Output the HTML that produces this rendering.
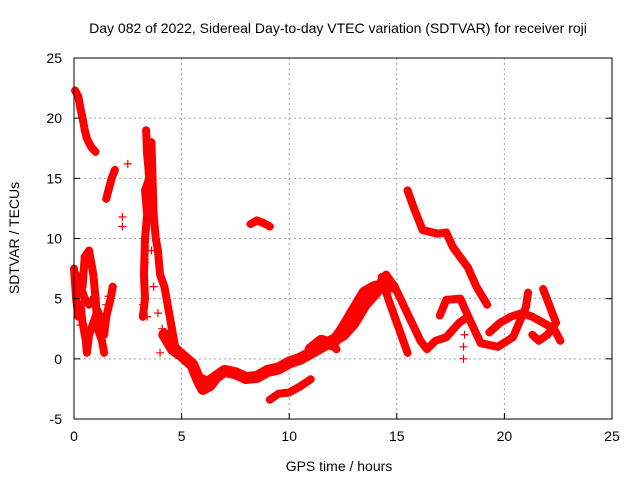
<!DOCTYPE html>
<html><head><meta charset="utf-8"><style>
body{margin:0;background:#fff;}
svg text{font-family:"Liberation Sans",sans-serif;font-size:14px;fill:#000;}
</style></head><body>
<svg id="chart" width="640" height="480" viewBox="0 0 640 480" xmlns="http://www.w3.org/2000/svg">
<text x="338" y="33" text-anchor="middle">Day 082 of 2022, Sidereal Day-to-day VTEC variation (SDTVAR) for receiver roji</text>
<g id="grid"></g>
<g id="marks"></g>
<rect x="74" y="58" width="538" height="361" fill="none" stroke="#000" stroke-width="1"/>
<g id="ticks"></g>
<text x="339" y="471" text-anchor="middle">GPS time / hours</text>
<text transform="translate(19,238) rotate(-90)" text-anchor="middle">SDTVAR / TECUs</text>
</svg>
<script>
const xTicks=[0,5,10,15,20,25];
const yTicks=[-5,0,5,10,15,20,25];
const trackA=[[0.05,22.3],[0.2,21.8],[0.3,20.8],[0.4,20],[0.5,19],[0.6,18.3],[0.8,17.6],[1.0,17.2]];
const trackB=[[1.5,13.3],[1.6,14],[1.75,15],[1.9,15.7]];
const trackSingles=[[2.5,16.2],[2.25,11.8],[2.25,11],[18.1,0],[18.1,1],[18.15,2],[3.5,12],[3.3,8],[3.6,9],[3.7,6],[3.2,4.5],[3.4,3.5],[3.9,3.8],[4.1,2.5],[4.3,1.5],[4.0,0.5],[1.6,5.2],[1.5,4.5],[0.05,6.2],[0.3,2.8]];
const trackC1=[[0,7.5],[0.1,5],[0.2,3.5],[0.3,4.5],[0.4,3],[0.55,1.5],[0.6,0.5],[0.7,2],[0.9,3],[1.1,4],[1.3,3],[1.4,2],[1.5,3.5],[1.7,5],[1.8,6]];
const trackC2=[[0.4,6],[0.5,8.5],[0.7,9],[0.9,7],[1.0,5],[1.1,2.5],[1.3,1.5],[1.4,0.5]];
const trackC3=[[0.1,7],[0.3,6],[0.5,5],[0.7,4.5],[0.9,5]];
const trackD1=[[3.35,19],[3.4,17],[3.5,15],[3.3,14],[3.4,12],[3.3,10],[3.25,7],[3.3,5],[3.2,3.5]];
const trackD2=[[3.6,18],[3.65,15],[3.7,12],[3.8,10],[3.9,9],[4.0,7],[4.2,6],[4.3,5],[4.4,4],[4.5,3],[4.6,2],[4.7,1],[5,0.5],[5.3,0],[5.6,-1],[5.8,-1.5],[6.2,-1.8],[6.6,-1.3],[7,-1],[7.5,-1.2]];
const trackMain=[[4.2,2],[4.6,0.8],[5,0.3],[5.5,-0.5],[5.8,-1.8],[6,-2.5],[6.3,-2.2],[6.6,-1.5],[7,-1],[7.5,-1.2],[8,-1.6],[8.5,-1.5],[9,-1],[9.5,-0.8],[10,-0.3],[10.5,0],[11,0.5],[11.5,1],[12,1.5],[12.5,2],[13,3],[13.5,4.5],[14,5.5],[14.4,6.5],[14.8,6]];
const trackMain2=[[11,0.8],[11.5,1.5],[12,1.2],[12.5,2.5],[13,4],[13.5,5.5],[14,6],[14.5,5.8]];
const trackLow=[[9.1,-3.4],[9.5,-2.9],[10,-2.8],[10.5,-2.3],[11,-1.7]];
const trackMid=[[10.9,0.5],[11.3,1.2],[11.8,1.5],[12.2,0.8]];
const trackSmall=[[8.2,11.2],[8.5,11.5],[8.8,11.3],[9.1,11]];
const trackFall1=[[14.3,6.8],[14.6,5],[14.9,3.5],[15.2,2],[15.5,0.5]];
const trackFall2=[[14.5,7],[14.9,6],[15.3,4.5],[15.7,3],[16.1,1.5],[16.4,0.8],[16.8,1.5],[17.3,1.8],[17.9,3],[18.3,3.5]];
const trackTop=[[15.5,14],[15.8,12.5],[16.2,10.7],[16.9,10.4],[17.3,10.5],[17.6,9.3],[18.3,7.6],[18.7,6],[19.2,4.5]];
const trackLoop=[[17,3.6],[17.3,4.9],[17.95,5],[18.4,3.2],[18.9,1.3],[19.7,1],[20.4,1.8],[21,4.3],[21.1,5.5]];
const trackRight1=[[19.3,2.2],[19.8,3],[20.3,3.5],[20.8,3.8],[21.3,3.5],[21.8,3],[22.3,2.5],[22.6,1.5]];
const trackRight2=[[21.3,2],[21.6,1.5],[22,2],[22.4,3],[21.8,5.8]];
const tracks=[trackA,trackB,trackC1,trackC2,trackC3,trackD1,trackD2,trackMain,trackMain2,trackLow,trackMid,trackSmall,trackFall1,trackFall2,trackTop,trackLoop,trackRight1,trackRight2];
const wide=[trackMain,trackMain2];
const NS="http://www.w3.org/2000/svg";
const X0=74,X1=612,Y0=419,Y1=58;
function sx(h){return X0+(h-0)/(25-0)*(X1-X0);}
function sy(v){return Y0-(v+5)/30*(Y0-Y1);}
function mk(t,a,p){const e=document.createElementNS(NS,t);for(const k in a)e.setAttribute(k,a[k]);p.appendChild(e);return e;}
const grid=document.getElementById('grid'),ticks=document.getElementById('ticks'),marks=document.getElementById('marks');
xTicks.forEach(t=>{const x=sx(t);
 if(t>0&&t<25){const g=mk('line',{x1:x,x2:x,y1:Y1,y2:Y0,stroke:'#a0a0a0','stroke-dasharray':'2,3'},grid);
 
 }
 const l=mk('line',{x1:x,x2:x,y1:Y0,y2:Y0-6,stroke:'#000'},ticks);
 
 
 const tx=mk('text',{x:x,y:Y0+22,'text-anchor':'middle'},ticks);tx.textContent=t;
 
 
});
yTicks.forEach(t=>{const y=sy(t);
 if(t>-5&&t<25){const g=mk('line',{x1:X0,x2:X1,y1:y,y2:y,stroke:'#a0a0a0','stroke-dasharray':'2,3'},grid);
 
 }
 const l=mk('line',{x1:X0,x2:X0+6,y1:y,y2:y,stroke:'#000'},ticks);
 
 
 const l2=mk('line',{x1:X1,x2:X1-6,y1:y,y2:y,stroke:'#000'},ticks);
 
 
 const tx=mk('text',{x:X0-12,y:y+5,'text-anchor':'end'},ticks);tx.textContent=t;
 
 
});
function plus(h,v){const x=sx(h),y=sy(v);
 const p=mk('path',{d:`M${x-4},${y}h8M${x},${y-4}v8`,stroke:'#f00','stroke-width':1.2},marks);
 
 }
tracks.forEach(tr=>{
 const w=wide.includes(tr)?12:8;
 const pl=mk('polyline',{points:tr.map(p=>sx(p[0])+','+sy(p[1])).join(' '),fill:'none',stroke:'#f00','stroke-width':w,'stroke-linejoin':'round','stroke-linecap':'round'},marks);
 
 
 tr.forEach(p=>plus(p[0],p[1]));
});
trackSingles.forEach(p=>plus(p[0],p[1]));
</script>
</body></html>
